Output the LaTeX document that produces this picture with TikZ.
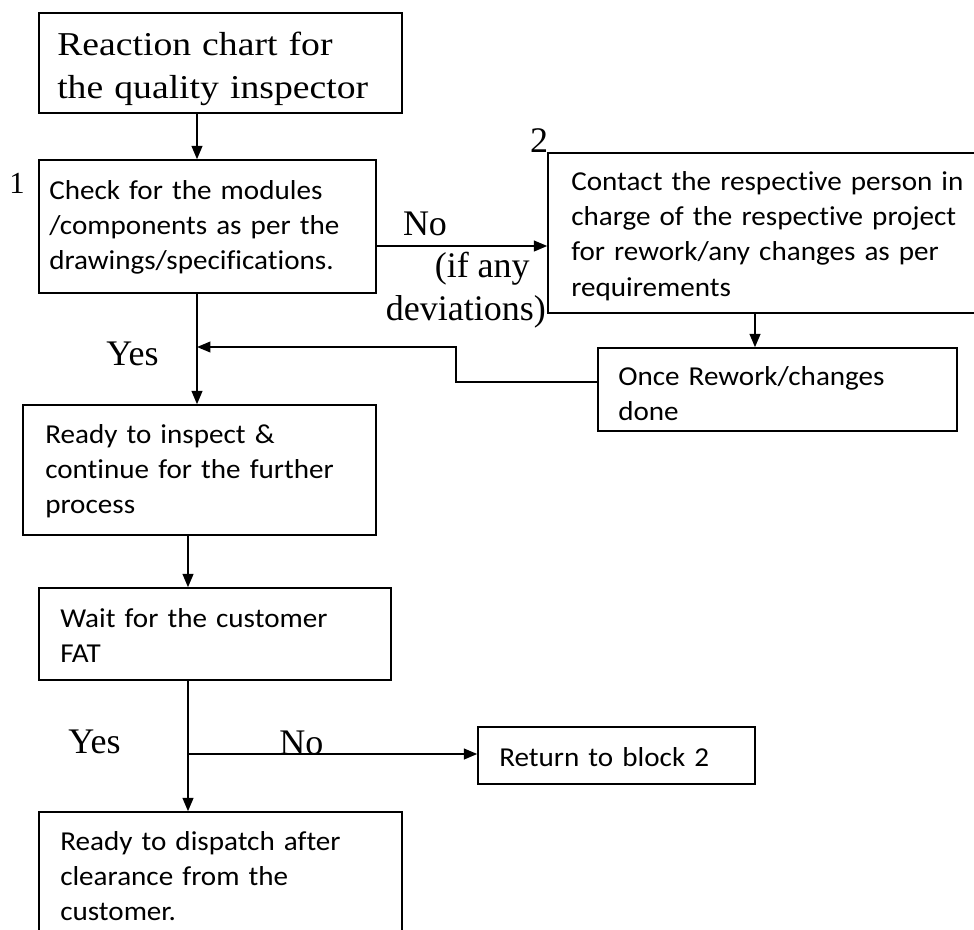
\documentclass[tikz,border=0pt]{standalone}
\usepackage{fontspec}
\setmainfont{Liberation Serif}
\newfontfamily\titlefont{Liberation Serif}[FakeStretch=1.13]
\newfontfamily\labelfont{Liberation Serif}
\newfontfamily\boxfont{Carlito}[FakeStretch=1.065, Ligatures=NoCommon]
\usetikzlibrary{arrows.meta,fit}
\tikzset{
  box/.style={draw, line width=1.1pt, inner sep=0pt},
  btext/.style={font=\boxfont\fontsize{20.5pt}{26.5pt}\selectfont, inner sep=0pt, align=left, text width=300pt, anchor=base west},
  ttext/.style={font=\titlefont\fontsize{25pt}{32.25pt}\selectfont, inner sep=0pt, align=left, text width=300pt, anchor=base west},
  lbl/.style={font=\labelfont\fontsize{27pt}{32.25pt}\selectfont, inner sep=0pt},
  arr/.style={line width=1.5pt, -{Triangle[length=10pt,width=8pt]}},
}
\begin{document}
\begin{tikzpicture}[x=0.75pt,y=-0.75pt]
\fill[white] (0,0) rectangle (974,929);
\useasboundingbox (0,0) rectangle (974,929);
% boxes
\node[box, fit={(39,13) (402,113)}] (title) {};
\node[box, fit={(39,160) (376,293)}] (b1) {};
\node[box, fit={(548,153) (990,313)}] (b2) {};
\node[box, fit={(598,348) (957,431)}] (once) {};
\node[box, fit={(23,405) (376,535)}] (ready) {};
\node[box, fit={(39,588) (391,680)}] (wait) {};
\node[box, fit={(478,727) (755,784)}] (ret) {};
\node[box, fit={(39,812) (402,945)}] (disp) {};
% texts
\node[ttext] (titlet) at (57,55) {Reaction chart for\\the quality inspector};
\node[btext] (b1t) at (49,199) {Check for the modules\\/components as per the\\drawings/specifications.};
\node[btext] (b2t) at (571,190) {Contact the respective person in\\charge of the respective project\\for rework/any changes as per\\requirements};
\node[btext] (oncet) at (618,385) {Once Rework/changes\\done};
\node[btext] (readyt) at (45,443) {Ready to inspect \&\\continue for the further\\process};
\node[btext] (waitt) at (60,627) {Wait for the customer\\FAT};
\node[btext] (rett) at (499,766) {Return to block 2};
\node[btext] (dispt) at (60,850) {Ready to dispatch after\\clearance from the\\customer.};
% labels
\node[lbl, font=\labelfont\fontsize{23pt}{26pt}\selectfont, anchor=base] (l1) at (17,193) {1};
\node[lbl, anchor=base] (l2) at (539,152) {2};
\node[lbl, anchor=base] (lno1) at (425,235) {No};
\node[lbl, anchor=south east, align=right] (ldev) at (546,328) {(if any\hspace*{12pt}\\deviations)};
\node[lbl, anchor=base west] (lyes1) at (106,365) {Yes};
\node[lbl, anchor=base west] (lyes2) at (68,753) {Yes};
\node[lbl, anchor=base west] (lno2) at (279,754) {No};
% connectors
\coordinate (xa) at (197,0);
\coordinate (xb) at (755,0);
\coordinate (xc) at (188,0);
\coordinate (yno) at (0,246);
\coordinate (r0) at (598,382);
\coordinate (r1) at (456,382);
\coordinate (r2) at (456,347);
\coordinate (br) at (188,754);
\draw[arr] (title.south -| xa) -- (b1.north -| xa);
\draw[arr] (b1.south -| xa) -- (ready.north -| xa);
\draw[arr] (b1.east |- yno) -- (b2.west |- yno);
\draw[arr] (b2.south -| xb) -- (once.north -| xb);
\draw[arr, line width=1.2pt] (once.west |- r0) -- (r1) -- (r2) -- (r2 -| xa);
\draw[arr] (ready.south -| xc) -- (wait.north -| xc);
\draw[arr] (wait.south -| xc) -- (disp.north -| xc);
\draw[arr] (br) -- (ret.west |- br);
\end{tikzpicture}
\end{document}
